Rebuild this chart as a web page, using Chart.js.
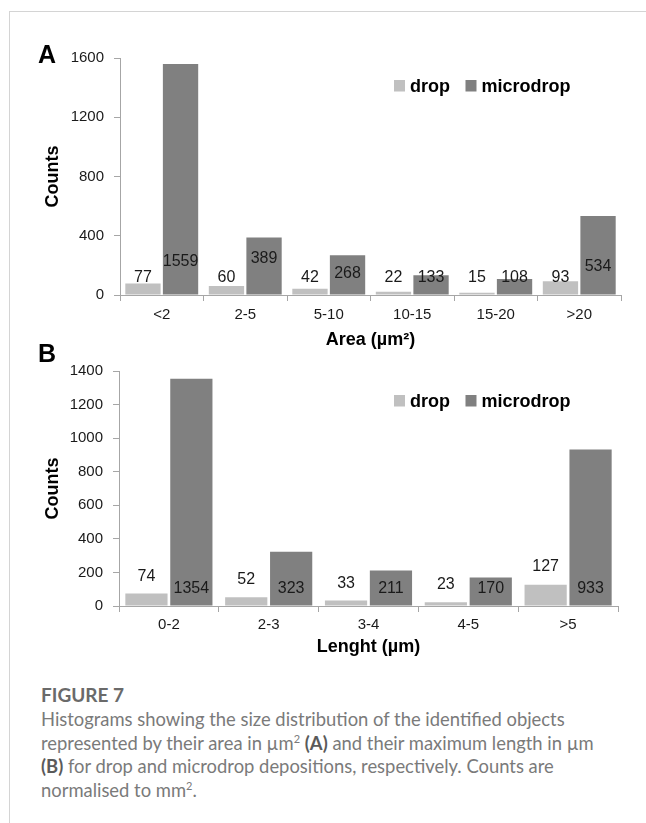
<!DOCTYPE html>
<html>
<head>
<meta charset="utf-8">
<script src="https://cdn.jsdelivr.net/npm/chart.js@4/dist/chart.umd.min.js"></script>
<style>
  html, body { margin: 0; padding: 0; background: #fff; }
  #page { position: relative; width: 646px; height: 823px; overflow: hidden; background: #fff; }
  #frame { position: absolute; left: 9px; top: 11px; width: 660px; height: 900px;
           border-top: 1.5px solid #d4d4d4; border-left: 1.5px solid #d4d4d4; }
  .chartBox { position: absolute; left: 0; width: 646px; }
  #boxA { top: 0; height: 355px; }
  #boxB { top: 320px; height: 340px; }
  #caption { position: absolute; left: 41px; top: 682px; width: 605px;
             font-family: "Lato", "Open Sans", sans-serif; color: #7a7a7a; }
  #caption .fig { font-size: 19px; font-weight: 700; color: #6a6a6a; line-height: 26px; }
  #caption .txt { font-size: 18.4px; line-height: 23.6px; white-space: nowrap; }
  #caption b { color: #5a5a5a; }
</style>
</head>
<body>
<div id="page">
  <div id="frame"></div>
  <div class="chartBox" id="boxA"><canvas id="chartA"></canvas></div>
  <div class="chartBox" id="boxB"><canvas id="chartB"></canvas></div>
  <div id="caption">
    <div class="fig">FIGURE 7</div>
    <div class="txt">Histograms showing the size distribution of the identified objects<br>represented by their area in µm<sup style="font-size:11px;line-height:0">2</sup> <b>(A)</b> and their maximum length in µm<br><b>(B)</b> for drop and microdrop depositions, respectively. Counts are<br>normalised to mm<sup style="font-size:11px;line-height:0">2</sup>.</div>
  </div>
</div>
<script>
// panel A: area
var areaLabels = ["<2", "2-5", "5-10", "10-15", "15-20", ">20"];
var areaDrop = [77, 60, 42, 22, 15, 93];
var areaMicro = [1559, 389, 268, 133, 108, 534];
var areaTicks = [0, 400, 800, 1200, 1600];

// panel B: length
var lenLabels = ["0-2", "2-3", "3-4", "4-5", ">5"];
var lenDrop = [74, 52, 33, 23, 127];
var lenMicro = [1354, 323, 211, 170, 933];
var lenTicks = [0, 200, 400, 600, 800, 1000, 1200, 1400];

var FONT = "'Liberation Sans', Arial, sans-serif";
var AXIS = "#a6a6a6";

// value labels, placed at hand-picked heights like the original figure
var barText = {
  id: "barText",
  afterDatasetsDraw: function (chart, args, opts) {
    var ctx = chart.ctx;
    var y = chart.scales.y;
    ctx.save();
    ctx.font = "16px " + FONT;
    ctx.fillStyle = "#1a1a1a";
    ctx.textAlign = "center";
    ctx.textBaseline = "middle";
    chart.data.datasets.forEach(function (ds, i) {
      chart.getDatasetMeta(i).data.forEach(function (bar, j) {
        ctx.fillText(String(ds.data[j]), bar.x, y.getPixelForValue(opts.at[i][j]));
      });
    });
    ctx.restore();
  },
};

// panel letter + legend inside plot
var panelDecor = {
  id: "panelDecor",
  afterDraw: function (chart, args, opts) {
    var ctx = chart.ctx;
    ctx.save();
    ctx.fillStyle = "#000";
    ctx.textBaseline = "alphabetic";
    ctx.font = "bold 25px " + FONT;
    ctx.fillText(opts.letter, 38, opts.letterY);

    ctx.font = "bold 18px " + FONT;
    var x = opts.legendX;
    chart.data.datasets.forEach(function (ds) {
      ctx.fillStyle = ds.backgroundColor;
      ctx.fillRect(x, opts.legendY - 11.5, 11, 11.5);
      ctx.fillStyle = "#000";
      ctx.fillText(ds.label, x + 16, opts.legendY);
      x += 16 + ctx.measureText(ds.label).width + 15.5;
    });
    ctx.restore();
  },
};

function makeChart(id, labels, drop, micro, ticks, cfg) {
  var ctx = document.getElementById(id).getContext("2d");
  return new Chart(ctx, {
    type: "bar",
    data: {
      labels: labels,
      datasets: [
        { label: "drop", data: drop, backgroundColor: "#c0c0c0" },
        { label: "microdrop", data: micro, backgroundColor: "#808080" },
      ],
    },
    options: {
      responsive: true,
      maintainAspectRatio: false,
      animation: false,
      categoryPercentage: 0.9,
      barPercentage: 0.94,
      layout: { padding: { top: cfg.top, right: cfg.right, bottom: 0, left: 0 } },
      plugins: {
        legend: { display: false },
        tooltip: { enabled: false },
        barText: { at: cfg.labelAt },
        panelDecor: { letter: cfg.letter, letterY: cfg.letterY, legendX: 394, legendY: cfg.legendY },
      },
      scales: {
        x: {
          afterFit: function (scale) { scale.height = cfg.xHeight; },
          grid: { drawOnChartArea: false, drawTicks: true, tickLength: 6, color: AXIS, offset: true },
          border: { color: AXIS, width: 1 },
          ticks: { color: "#1a1a1a", font: { family: FONT, size: 15 }, padding: cfg.xPad },
          title: {
            display: true,
            text: cfg.xTitle,
            color: "#000",
            font: { family: FONT, size: 18, weight: "bold" },
            padding: { top: 0, bottom: cfg.titlePad },
          },
        },
        y: {
          min: ticks[0],
          max: ticks[ticks.length - 1],
          afterFit: function (scale) { scale.width = cfg.yWidth; },
          afterBuildTicks: function (scale) {
            scale.ticks = ticks.map(function (v) { return { value: v }; });
          },
          grid: { drawOnChartArea: false, drawTicks: true, tickLength: 6, color: AXIS },
          border: { color: AXIS, width: 1 },
          ticks: {
            color: "#1a1a1a",
            font: { family: FONT, size: 15 },
            padding: 10,
            callback: function (v) { return String(v); },
          },
          title: {
            display: true,
            text: "Counts",
            color: "#000",
            font: { family: FONT, size: 18, weight: "bold" },
            padding: { top: 42, bottom: 0 },
          },
        },
      },
    },
    plugins: [barText, panelDecor],
  });
}

makeChart("chartA", areaLabels, areaDrop, areaMicro, areaTicks, {
  top: 58, right: 25, xHeight: 60, xPad: 5, titlePad: 4.5, yWidth: 120,
  xTitle: "Area (µm²)", letter: "A", letterY: 63, legendY: 91.5,
  labelAt: [
    [115, 115, 115, 115, 115, 115],
    [225, 248, 147, 115, 115, 191],
  ],
});

makeChart("chartB", lenLabels, lenDrop, lenMicro, lenTicks, {
  top: 51, right: 28, xHeight: 54, xPad: 4, titlePad: 2.5, yWidth: 119,
  xTitle: "Lenght (µm)", letter: "B", letterY: 42, legendY: 86.5,
  labelAt: [
    [174, 155, 135, 129, 234],
    [105, 105, 105, 105, 105],
  ],
});
</script>
</body>
</html>
